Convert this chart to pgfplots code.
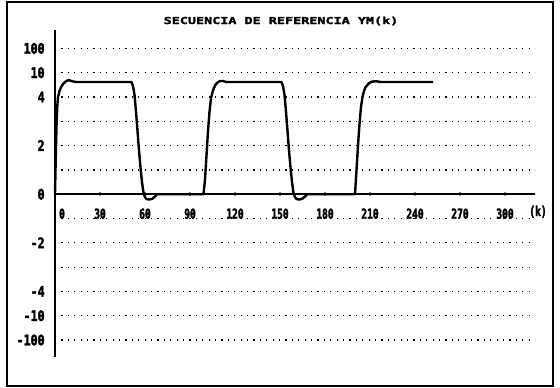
\documentclass[border=0pt]{standalone}
\usepackage{fontspec}
\usepackage{pgfplots}
\pgfplotsset{compat=1.18}
\newfontfamily\titlefont[FakeStretch=1.4,FakeBold=2.5]{DejaVu Sans Mono Bold}
\newfontfamily\yfont[FakeStretch=0.8,FakeBold=2.5]{DejaVu Sans Mono Bold}
\newfontfamily\xfont[FakeStretch=0.7,FakeBold=2.5]{DejaVu Sans Mono Bold}
\begin{document}
\begin{tikzpicture}
\path (0,0) rectangle (280pt,-193.5pt);
\draw[line width=0.75pt] (3.5pt,-1pt) rectangle (276.5pt,-193pt);
\node[font=\titlefont\fontsize{4.8pt}{5pt}\selectfont] at (140.5pt,-10.5pt) {SECUENCIA DE REFERENCIA YM(k)};
\begin{axis}[
  at={(27.5pt,-178.5pt)}, anchor=south west,
  scale only axis, width=240pt, height=163.4pt,
  xmin=0, xmax=320, ymin=-6.7, ymax=6.75,
  axis x line=middle, axis y line=left,
  hide obscured x ticks=false,
  axis line style={-, line width=1pt},
  xtick={0,30,...,300},
  xticklabels={\hspace{7pt}0,30,60,90,120,150,180,210,240,270,300},
  xticklabel style={font=\xfont\fontsize{6.85pt}{7pt}\selectfont, anchor=center, inner sep=0pt, yshift=-8.75pt},
  ytick={-6,-5,-4,-3,-2,-1,0,1,2,3,4,5,6},
  yticklabels={-100,-10,-4,,-2,,0,,2,,4,10,100},
  yticklabel style={font=\yfont\fontsize{7.25pt}{7.5pt}\selectfont, anchor=east, inner sep=0pt, xshift=-4pt},
  ytick style={draw=none},
  xtick style={line width=0.8pt},
  major tick length=2pt,
  ymajorgrids,
  grid style={line width=0.6pt, dash pattern=on 0.6pt off 2.6pt, black},
  clip=false,
]
\addplot[line width=1.2pt, black, line join=round] coordinates {
(0,0) (0.5,1.5) (1,2.8) (1.5,3.6) (2,4.0) (3,4.25) (4,4.4) (5,4.5) (6,4.58) (7,4.63) (8,4.67) (9,4.69) (10,4.68) (12,4.64) (14,4.62)
(51,4.62) (52,4.45) (53,4.1) (54,3.4) (55,2.6) (56,1.8) (57,1.1) (58,0.5) (59,0.05) (60,-0.12) (61,-0.2) (63,-0.22) (65,-0.18) (67,-0.08) (68,0)
(99,0) (100,0.6) (101,1.6) (102,2.6) (103,3.4) (104,3.95) (105,4.2) (106,4.38) (107,4.5) (108,4.58) (110,4.66) (112,4.66) (114,4.62)
(151,4.62) (152,4.45) (153,4.1) (154,3.4) (155,2.6) (156,1.8) (157,1.1) (158,0.5) (159,0.05) (160,-0.12) (161,-0.2) (163,-0.22) (165,-0.18) (167,-0.08) (168,0)
(200,0) (201,1.0) (202,2.0) (203,2.9) (204,3.6) (205,4.0) (206,4.25) (207,4.4) (209,4.55) (211,4.63) (214,4.65) (217,4.62) (252,4.62)
};
\node[font=\xfont\fontsize{6.85pt}{7pt}\selectfont, inner sep=0pt] at (axis cs:322,-0.72) {(k)};
\end{axis}
\end{tikzpicture}
\end{document}
